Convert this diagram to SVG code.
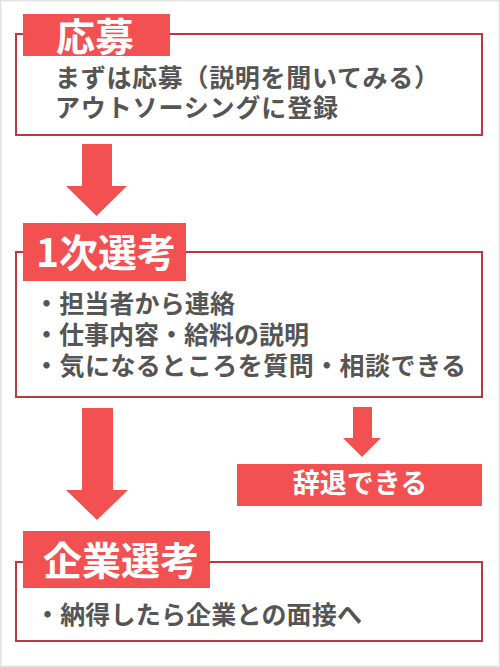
<svg xmlns="http://www.w3.org/2000/svg" width="500" height="667" viewBox="0 0 500 667">
<style>
.box{fill:#fff;stroke:#b93a3e;stroke-width:2}
.lab{fill:#f25051}
.arr{fill:#f25051}
.t{font-family:"Noto Sans CJK JP","Noto Sans CJK SC",sans-serif;font-weight:bold}
.title{fill:#fff;font-size:39px}
.body{fill:#555;font-size:25px}
</style>
<rect x="0.5" y="0.5" width="499" height="666" fill="#fff" stroke="#e4e4e4" stroke-width="2"/>
<g id="connectors">
<polygon class="arr" points="82,144 112,144 112,186 127,186 96.5,216 66,186 82,186"/>
<polygon class="arr" points="82,408 113,408 113,490 128,490 97,520 66,490 82,490"/>
<polygon class="arr" points="353,407 372,407 372,438 381,438 362,457 343,438 353,438"/>
</g>
<g id="node1">
<rect class="box" x="16" y="34" width="466" height="101"/>
<rect class="lab" x="23" y="14" width="147" height="42"/>
<text class="t title" x="56" y="51">応募</text>
<text class="t body" x="55" y="87" font-size="25.5" textLength="384" lengthAdjust="spacing">まずは応募（説明を聞いてみる）</text>
<text class="t body" x="55" y="117" font-size="25.5" textLength="283" lengthAdjust="spacing">アウトソーシングに登録</text>
</g>
<g id="node2">
<rect class="box" x="16" y="252" width="466" height="145"/>
<rect class="lab" x="23" y="223" width="163" height="58"/>
<text class="t title" x="36" y="267" font-size="38">1次選考</text>
<text class="t body" x="34" y="313" textLength="201" lengthAdjust="spacing">・担当者から連絡</text>
<text class="t body" x="34" y="344" textLength="275" lengthAdjust="spacing">・仕事内容・給料の説明</text>
<text class="t body" x="34" y="375" textLength="432" lengthAdjust="spacing">・気になるところを質問・相談できる</text>
</g>
<g id="node3">
<rect class="lab" x="237" y="464" width="245" height="42"/>
<text class="t" x="360" y="493" fill="#fff" font-size="27" text-anchor="middle">辞退できる</text>
</g>
<g id="node4">
<rect class="box" x="16" y="562" width="466" height="79"/>
<rect class="lab" x="23" y="531" width="187" height="57"/>
<text class="t title" x="43" y="575">企業選考</text>
<text class="t body" x="35" y="624" textLength="327" lengthAdjust="spacing">・納得したら企業との面接へ</text>
</g>
</svg>
